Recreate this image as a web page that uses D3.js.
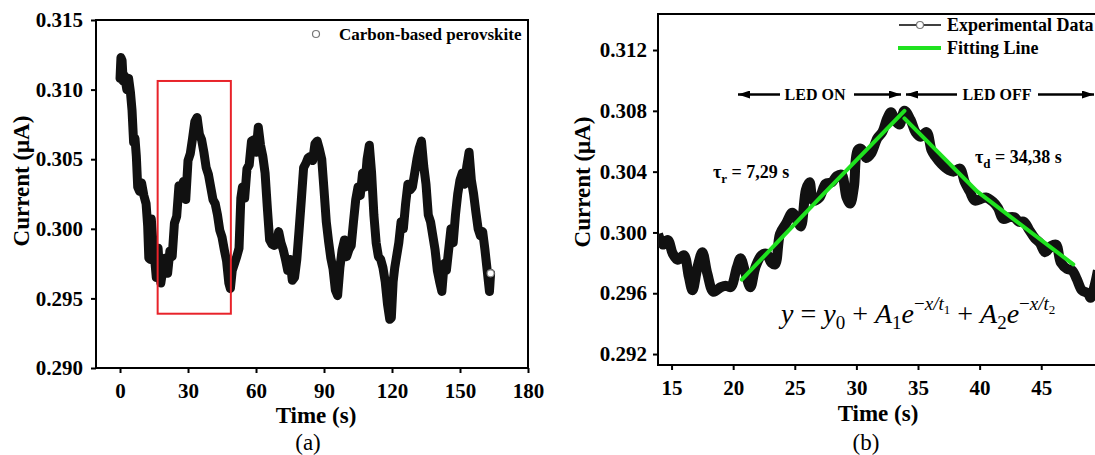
<!DOCTYPE html>
<html>
<head>
<meta charset="utf-8">
<script src="https://cdn.jsdelivr.net/npm/d3@7"></script>
<style>
  body { margin: 0; background: #fff; }
  text { font-family: 'Liberation Serif', 'Times New Roman', serif; }
</style>
</head>
<body>
<div id="chart"></div>
<script>
// panel (a): full photocurrent trace
const leftTime = [0,0.4,0.9,1.4,2,3,3.8,4.6,5.3,6,6.6,7.2,7.8,8.6,9.5,10.5,11.5,12.2,12.7,13.3,13.8,14.5,15.3,16,16.8,17.4,18,19,20,21,22,23,24,25,26,27,28,29,30,31,32,33,34,35,36,37,38,39,40,41,42,43,44,45,46,47,48,48.7,49.5,50.5,51.5,52.5,53.3,54,55,56,57,58,59,60,61,62,63,64,65,66,67,68,69,70,71,72,73,74,75,76,77,78,79,80,81,82,83,84,85,86,87,88,89,90,91,92,93,94,95,96,97,98,99,100,101,102,103,104,105,106,107,108,109,110,111,112,113,114,115,116,117,118,119,119.7,120.5,121.2,122,123,124,125,126,127,128,129,130,131,132,133,134,135,136,137,138,139,140,141,142,143,144,145,146,147,148,149,150,151,152,153,154,155,156,157,158,159,160,161,162,163,163.5]
const leftCurrent = [0.3108,0.3123,0.3121,0.3106,0.3110,0.3100,0.3108,0.3098,0.3085,0.3062,0.3065,0.3052,0.3030,0.3027,0.3033,0.3024,0.3018,0.3002,0.2979,0.2978,0.3007,0.2990,0.2978,0.2965,0.2986,0.2970,0.2961,0.2972,0.2979,0.2968,0.2984,0.2980,0.3004,0.3009,0.3031,0.3030,0.3034,0.3021,0.3049,0.3054,0.3065,0.3077,0.3080,0.3068,0.3064,0.3055,0.3044,0.3039,0.3030,0.3021,0.3018,0.3010,0.2999,0.2994,0.2985,0.2977,0.2961,0.2957,0.2970,0.2975,0.2980,0.2986,0.3022,0.3030,0.3022,0.3043,0.3046,0.3063,0.3064,0.3055,0.3073,0.3060,0.3052,0.3040,0.3015,0.2992,0.2989,0.2988,0.2989,0.2998,0.2990,0.2985,0.2978,0.2970,0.2978,0.2963,0.2965,0.2978,0.2999,0.3021,0.3044,0.3047,0.3051,0.3052,0.3049,0.3061,0.3063,0.3057,0.3050,0.3028,0.3005,0.2991,0.2979,0.2971,0.2956,0.2952,0.2972,0.2985,0.2992,0.2980,0.2985,0.2988,0.3005,0.3021,0.3030,0.3024,0.3040,0.3030,0.3050,0.3060,0.3040,0.3010,0.2990,0.2980,0.2978,0.2972,0.2962,0.2946,0.2935,0.2936,0.2962,0.2972,0.2980,0.2990,0.3005,0.3000,0.3018,0.3032,0.3028,0.3030,0.3040,0.3050,0.3058,0.3063,0.3045,0.3032,0.3010,0.3005,0.2995,0.2985,0.2970,0.2962,0.2955,0.2975,0.2970,0.2985,0.3000,0.2990,0.3010,0.3025,0.3035,0.3040,0.3032,0.3045,0.3055,0.3035,0.3025,0.3012,0.3000,0.2995,0.2998,0.2985,0.2970,0.2955,0.2968]
const leftXTicks = [0, 30, 60, 90, 120, 150, 180]
const leftYTicks = [0.290, 0.295, 0.300, 0.305, 0.310, 0.315]
const zoomBox = {t0: 16.6, t1: 48.9, c0: 0.2939, c1: 0.31062}

// panel (b): one on/off cycle with fits
const rightTime = [13.9,14.3,14.7,15.1,15.5,16.0,16.4,16.7,17.1,17.5,17.9,18.4,19.0,19.4,19.8,20.3,20.6,21.0,21.4,21.8,22.3,22.7,23.1,23.4,23.8,24.3,24.8,25.3,25.5,25.9,26.2,26.5,27.0,27.5,28.0,28.4,28.8,29.2,29.5,29.8,30.1,30.4,30.8,31.2,31.7,32.1,32.5,32.8,33.2,33.5,33.9,34.4,34.8,35.2,35.7,36.1,36.4,36.9,37.5,37.9,38.4,38.8,39.2,39.6,40.1,40.5,41.1,41.5,41.9,42.4,42.8,43.2,43.6,44.0,44.5,44.9,45.3,45.8,46.2,46.6,47.1,47.5,47.9,48.3,48.8,49.0,49.3,49.6]
const rightCurrent = [0.2999,0.2992,0.2995,0.2986,0.2982,0.2985,0.2971,0.2962,0.2977,0.2987,0.2973,0.2961,0.2964,0.2965,0.2964,0.2977,0.2983,0.2973,0.2964,0.2977,0.2985,0.2986,0.2980,0.2979,0.2999,0.3006,0.3013,0.3006,0.3004,0.3028,0.3033,0.3021,0.3023,0.3032,0.3033,0.3037,0.3038,0.3023,0.3019,0.3030,0.3054,0.3055,0.3049,0.3052,0.3062,0.3066,0.3075,0.3079,0.3073,0.3071,0.3080,0.3074,0.3066,0.3063,0.3066,0.3054,0.3050,0.3045,0.3041,0.3040,0.3042,0.3033,0.3027,0.3021,0.3022,0.3023,0.3020,0.3016,0.3009,0.3010,0.3010,0.3007,0.3007,0.3002,0.2996,0.2993,0.2987,0.2991,0.2992,0.2980,0.2976,0.2975,0.2969,0.2962,0.2960,0.2957,0.2964,0.2975]
const riseTime = [20.7, 27.3, 33.9]
const riseCurrent = [0.2969, 0.3025, 0.3080]
const decayTime = [33.9, 39.8, 47.6]
const decayCurrent = [0.3075, 0.3027, 0.2979]
const rightXTicks = [15, 20, 25, 30, 35, 40, 45]
const rightYTicks = [0.292, 0.296, 0.300, 0.304, 0.308, 0.312]

const SERIF = "'Liberation Serif', 'Times New Roman', serif"
const GREEN = "#1fe21f"

const svg = d3.select("#chart").append("svg")
  .attr("width", 1095)
  .attr("height", 455)

const defs = svg.append("defs")
function arrowHead(id, orient) {
  defs.append("marker")
    .attr("id", id)
    .attr("viewBox", "0 0 12 8")
    .attr("refX", 12).attr("refY", 4)
    .attr("markerWidth", 12).attr("markerHeight", 8)
    .attr("markerUnits", "userSpaceOnUse")
    .attr("orient", orient)
    .append("path")
      .attr("d", "M0,0 L12,4 L0,8 Z")
      .attr("fill", "#000")
}
arrowHead("head", "auto")

function drawPanel(o) {
  const x = d3.scaleLinear().domain(o.xDomain).range(o.xRange)
  const y = d3.scaleLinear().domain(o.yDomain).range(o.yRange)
  const g = svg.append("g")

  defs.append("clipPath").attr("id", o.id + "-clip")
    .append("rect")
      .attr("x", o.xRange[0]).attr("y", o.yRange[1])
      .attr("width", o.xRange[1] - o.xRange[0])
      .attr("height", o.yRange[0] - o.yRange[1])

  const xAxis = g.append("g")
    .attr("transform", `translate(0, ${o.yRange[0]})`)
    .call(d3.axisBottom(x).tickValues(o.xTicks).tickSize(5).tickSizeOuter(0).tickPadding(o.xPad))
  const yAxis = g.append("g")
    .attr("transform", `translate(${o.xRange[0]}, 0)`)
    .call(d3.axisLeft(y).tickValues(o.yTicks).tickFormat(d3.format(".3f")).tickSize(5).tickSizeOuter(0).tickPadding(o.yPad))
  ;[xAxis, yAxis].forEach(a => {
    a.select(".domain").remove()
    a.selectAll("line").attr("stroke", "#000").attr("stroke-width", 2)
    a.selectAll("text")
      .attr("font-family", SERIF)
      .attr("font-size", 21)
      .attr("font-weight", "bold")
      .attr("fill", "#000")
  })

  // frame
  g.append("rect")
    .attr("x", o.xRange[0]).attr("y", o.yRange[1])
    .attr("width", o.xRange[1] - o.xRange[0])
    .attr("height", o.yRange[0] - o.yRange[1])
    .attr("fill", "none")
    .attr("stroke", "#000")
    .attr("stroke-width", 2)

  // X label
  g.append("text")
    .attr("x", o.xLabelX)
    .attr("y", o.xLabelY)
    .attr("font-size", "23px")
    .attr("font-weight", "bold")
    .attr("text-anchor", "middle")
    .text("Time (s)")

  // Y label
  g.append("text")
    .attr("transform", `translate(${o.yLabelX}, ${o.yLabelY}) rotate(-90)`)
    .attr("font-size", "23px")
    .attr("font-weight", "bold")
    .attr("text-anchor", "middle")
    .text("Current (\u03bcA)")

  // panel caption
  g.append("text")
    .attr("x", o.capX)
    .attr("y", 450)
    .attr("font-size", "23px")
    .attr("text-anchor", "middle")
    .text(o.caption)

  const plot = g.append("g").attr("clip-path", `url(#${o.id}-clip)`)
  return {x, y, g, plot}
}

// ---------- panel (a)
const A = drawPanel({
  id: "pa",
  xDomain: [-10.6, 180], xRange: [96, 528],
  yDomain: [0.290, 0.315], yRange: [368, 20],
  xTicks: leftXTicks, yTicks: leftYTicks, xPad: 10, yPad: 8,
  xLabelX: 316, xLabelY: 423, yLabelX: 29, yLabelY: 181,
  capX: 308, caption: "(a)"
})

const leftData = leftTime.map((t, i) => ({t: t, c: leftCurrent[i]}))
A.plot.append("path")
  .datum(leftData)
  .attr("fill", "none")
  .attr("stroke", "#111")
  .attr("stroke-width", 9)
  .attr("stroke-linejoin", "round")
  .attr("stroke-linecap", "round")
  .attr("d", d3.line().x(d => A.x(d.t)).y(d => A.y(d.c)))

const last = leftData[leftData.length - 1]
A.plot.append("circle")
  .attr("cx", A.x(last.t)).attr("cy", A.y(last.c))
  .attr("r", 3.5)
  .attr("fill", "#fff")
  .attr("stroke", "#888")
  .attr("stroke-width", 1.2)

A.g.append("rect")
  .attr("x", A.x(zoomBox.t0))
  .attr("y", A.y(zoomBox.c1))
  .attr("width", A.x(zoomBox.t1) - A.x(zoomBox.t0))
  .attr("height", A.y(zoomBox.c0) - A.y(zoomBox.c1))
  .attr("fill", "none")
  .attr("stroke", "#e8232a")
  .attr("stroke-width", 2)

// legend (a)
A.g.append("circle")
  .attr("cx", 316).attr("cy", 34).attr("r", 3.5)
  .attr("fill", "#fff").attr("stroke", "#777").attr("stroke-width", 1.2)
A.g.append("text")
  .attr("x", 339).attr("y", 40)
  .attr("font-size", "17px")
  .attr("font-weight", "bold")
  .text("Carbon-based perovskite")

// ---------- panel (b)
const B = drawPanel({
  id: "pb",
  xDomain: [13.9, 49.85], xRange: [658, 1101],
  yDomain: [0.29128, 0.31437], yRange: [365, 14],
  xTicks: rightXTicks, yTicks: rightYTicks, xPad: 10, yPad: 6,
  xLabelX: 878, xLabelY: 421, yLabelX: 590, yLabelY: 182,
  capX: 866, caption: "(b)"
})

const rightData = rightTime.map((t, i) => ({t: t, c: rightCurrent[i]}))
B.plot.append("path")
  .datum(rightData)
  .attr("fill", "none")
  .attr("stroke", "#111")
  .attr("stroke-width", 10)
  .attr("stroke-linejoin", "round")
  .attr("d", d3.line().curve(d3.curveCatmullRom).x(d => B.x(d.t)).y(d => B.y(d.c)))

const fitLine = d3.line().x(d => B.x(d.t)).y(d => B.y(d.c))
;[[riseTime, riseCurrent], [decayTime, decayCurrent]].forEach(([ts, cs]) => {
  B.plot.append("path")
    .datum(ts.map((t, i) => ({t: t, c: cs[i]})))
    .attr("fill", "none")
    .attr("stroke", GREEN)
    .attr("stroke-width", 4)
    .attr("stroke-linecap", "round")
    .attr("d", fitLine)
})

// LED arrows
function arrow(x1, x2, yy) {
  B.g.append("line")
    .attr("x1", x1).attr("x2", x2).attr("y1", yy).attr("y2", yy)
    .attr("stroke", "#000").attr("stroke-width", 2.5)
    .attr("marker-end", "url(#head)")
}
arrow(780, 738, 94.5)
arrow(854, 901, 94.5)
arrow(957, 906, 94.5)
arrow(1038, 1094, 94.5)
B.g.append("text")
  .attr("x", 815).attr("y", 100)
  .attr("font-size", "16px").attr("font-weight", "bold")
  .attr("text-anchor", "middle")
  .text("LED ON")
B.g.append("text")
  .attr("x", 997).attr("y", 100)
  .attr("font-size", "16px").attr("font-weight", "bold")
  .attr("text-anchor", "middle")
  .text("LED OFF")

// time constants
function tau(xx, yy, sub, rest) {
  const t = B.g.append("text")
    .attr("x", xx).attr("y", yy)
    .attr("font-size", "18px").attr("font-weight", "bold")
    .style("white-space", "pre")
  t.append("tspan").text("\u03c4")
  t.append("tspan").attr("font-size", "13px").attr("dy", 5).text(sub)
  t.append("tspan").attr("dy", -5).text(rest)
}
tau(713, 178, "r", " = 7,29 s")
tau(975, 163, "d", " = 34,38 s")

// model equation
const eqParts = [
  {s: "y", it: 1, sz: 28, off: 0},
  {s: " = ", sz: 28, off: 0},
  {s: "y", it: 1, sz: 28, off: 0},
  {s: "0", sz: 19, off: 6},
  {s: " + ", sz: 28, off: 0},
  {s: "A", it: 1, sz: 28, off: 0},
  {s: "1", sz: 19, off: 6},
  {s: "e", it: 1, sz: 28, off: 0},
  {s: "\u2212", sz: 19, off: -13},
  {s: "x/t", it: 1, sz: 19, off: -13},
  {s: "1", sz: 13, off: -9},
  {s: " + ", sz: 28, off: 0},
  {s: "A", it: 1, sz: 28, off: 0},
  {s: "2", sz: 19, off: 6},
  {s: "e", it: 1, sz: 28, off: 0},
  {s: "\u2212", sz: 19, off: -13},
  {s: "x/t", it: 1, sz: 19, off: -13},
  {s: "2", sz: 13, off: -9}
]
const eq = B.g.append("text")
  .attr("x", 781).attr("y", 323)
  .style("white-space", "pre")
let prevOff = 0
eqParts.forEach(p => {
  eq.append("tspan")
    .attr("dy", p.off - prevOff)
    .attr("font-size", p.sz + "px")
    .attr("font-style", p.it ? "italic" : "normal")
    .text(p.s)
  prevOff = p.off
})

// legend (b)
B.g.append("line")
  .attr("x1", 899).attr("x2", 941).attr("y1", 25).attr("y2", 25)
  .attr("stroke", "#000").attr("stroke-width", 1.5)
B.g.append("circle")
  .attr("cx", 920).attr("cy", 25).attr("r", 3.5)
  .attr("fill", "#fff").attr("stroke", "#777").attr("stroke-width", 1.2)
B.g.append("text")
  .attr("x", 947).attr("y", 31)
  .attr("font-size", "18px").attr("font-weight", "bold")
  .text("Experimental Data")
B.g.append("line")
  .attr("x1", 898).attr("x2", 941).attr("y1", 48).attr("y2", 48)
  .attr("stroke", GREEN).attr("stroke-width", 4)
B.g.append("text")
  .attr("x", 947).attr("y", 54)
  .attr("font-size", "18px").attr("font-weight", "bold")
  .text("Fitting Line")
</script>
</body>
</html>
